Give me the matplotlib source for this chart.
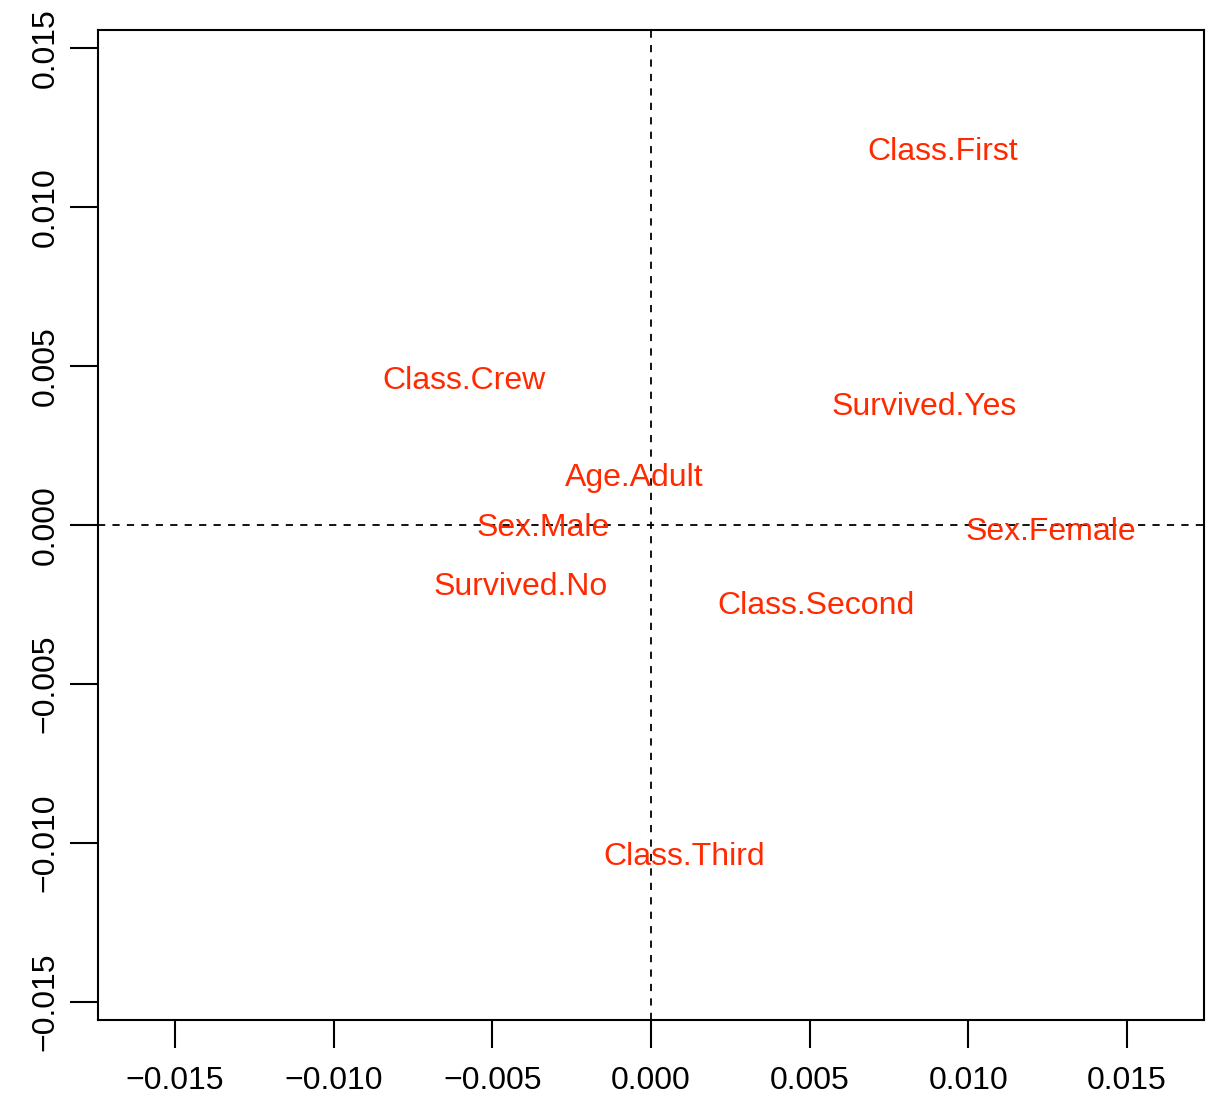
import matplotlib

matplotlib.use("Agg")
import matplotlib.pyplot as plt

# Category coordinates on the first two dimensions
labels = [
    "Class.First", "Class.Crew", "Survived.Yes", "Age.Adult", "Sex.Male",
    "Sex.Female", "Survived.No", "Class.Second", "Class.Third",
]
dim1 = [0.0092, -0.00589, 0.0086, -0.00054, -0.0034, 0.0126, -0.0041, 0.0052, 0.00104]
dim2 = [0.01172, 0.00452, 0.0037, 0.00147, -0.0001, -0.00023, -0.00196, -0.00255, -0.01045]
ticks = [-0.015, -0.010, -0.005, 0.000, 0.005, 0.010, 0.015]

plt.rcParams["font.family"] = ["Liberation Sans", "DejaVu Sans"]

fig = plt.figure(figsize=(12.15, 10.96), dpi=100)
ax = fig.add_axes([98 / 1215, 1 - 1020 / 1096, (1204 - 98) / 1215, (1020 - 30) / 1096])

for lab, x, y in zip(labels, dim1, dim2):
    ax.text(x, y, lab, color="#ff2a00", fontsize=23, ha="center", va="center")

ax.axhline(0, color="black", lw=1.3, ls=(0, (4, 4)))
ax.axvline(0, color="black", lw=1.3, ls=(0, (4, 4)))

ax.set_xlim(-0.01743, 0.01743)
ax.set_ylim(-0.01557, 0.01557)
ax.set_xticks(ticks)
ax.set_yticks(ticks)
ax.set_xticklabels([f"{t:.3f}".replace("-", "\u2212") for t in ticks])
ax.set_yticklabels([f"{t:.3f}".replace("-", "\u2212") for t in ticks],
                   rotation=90, va="center")
ax.tick_params(length=20, width=1.5, labelsize=23)
ax.tick_params(axis="x", pad=13)
ax.tick_params(axis="y", pad=7)
for sp in ax.spines.values():
    sp.set_linewidth(1.5)

fig.savefig("out.png", dpi=100)
